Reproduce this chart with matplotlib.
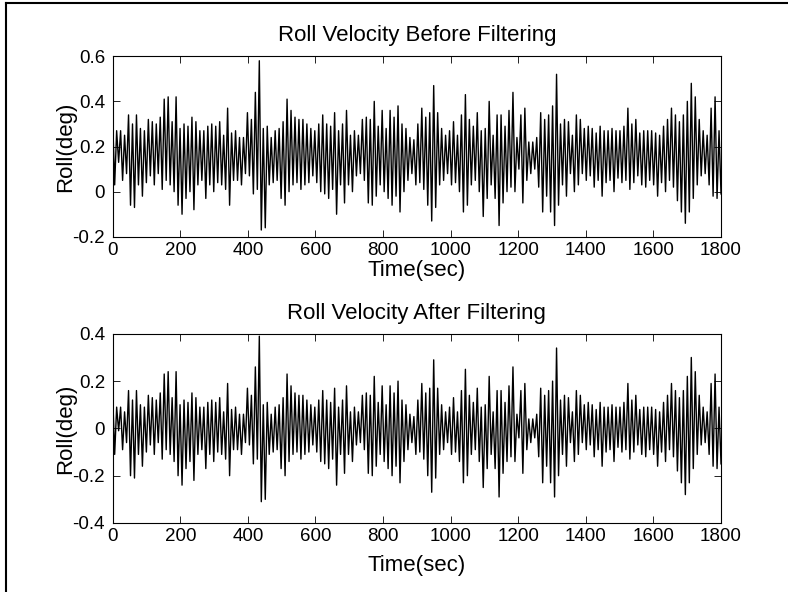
import numpy as np
import matplotlib
matplotlib.use("Agg")
import matplotlib.pyplot as plt
from matplotlib.lines import Line2D

# ---- data: successive peak / trough values of the roll velocity (deg) ----
before_peaks = [
    0.32, 0.27, 0.27, 0.25, 0.34, 0.30, 0.34, 0.28, 0.27, 0.32, 0.31, 0.30, 0.33, 0.41, 0.42, 0.31, 0.42, 0.28,
    0.30, 0.29, 0.33, 0.31, 0.27, 0.27, 0.29, 0.30, 0.29, 0.31, 0.25, 0.37, 0.26, 0.27, 0.24, 0.24, 0.35, 0.32,
    0.44, 0.58, 0.28, 0.29, 0.24, 0.27, 0.28, 0.31, 0.41, 0.36, 0.33, 0.32, 0.32, 0.30, 0.28, 0.27, 0.30,
    0.34, 0.30, 0.29, 0.35, 0.27, 0.30, 0.36, 0.25, 0.27, 0.25, 0.32, 0.33, 0.32, 0.40, 0.29, 0.36, 0.28, 0.36,
    0.33, 0.38, 0.30, 0.28, 0.24, 0.23, 0.30, 0.37, 0.33, 0.35, 0.47, 0.35, 0.28, 0.25, 0.27, 0.31, 0.25, 0.34,
    0.43, 0.32, 0.29, 0.35, 0.27, 0.28, 0.40, 0.25, 0.34, 0.34, 0.29, 0.36,
    0.44, 0.24, 0.34, 0.37, 0.22, 0.22, 0.24, 0.35, 0.32, 0.34, 0.38, 0.52, 0.30, 0.32, 0.31, 0.25, 0.34, 0.32,
    0.28, 0.29, 0.28, 0.26, 0.29, 0.27, 0.27, 0.28, 0.27, 0.27, 0.29, 0.37, 0.30, 0.32, 0.26, 0.27, 0.27, 0.27,
    0.26, 0.25, 0.29, 0.32, 0.37, 0.34, 0.31, 0.34, 0.40, 0.48, 0.42, 0.32, 0.27, 0.25, 0.37, 0.42, 0.27,
]
before_troughs = [
    0.03, 0.13, 0.05, 0.08, -0.06, -0.07, 0.03, -0.02, 0.04, 0.07, 0.03, 0.08, 0.01, 0.05, 0.03, 0.00, -0.06, -0.10,
    -0.03, 0.00, -0.08, 0.03, 0.05, -0.03, 0.03, 0.00, 0.04, 0.03, 0.01, -0.06, 0.05, 0.05, 0.03, 0.08, 0.07, -0.01,
    0.01, -0.17, -0.16, 0.03, 0.04, 0.05, -0.03, -0.06, 0.00, 0.03, 0.04, 0.01, 0.03, 0.04, 0.07, 0.04, 0.00,
    -0.01, -0.03, 0.01, -0.10, 0.03, -0.05, 0.03, 0.00, 0.07, 0.08, 0.05, -0.05, -0.06, -0.02, 0.03, 0.00, -0.03, -0.06,
    -0.02, -0.09, 0.00, 0.05, 0.08, 0.03, 0.04, 0.01, -0.06, -0.13, -0.07, 0.03, 0.05, 0.08, 0.03, 0.04, 0.00, -0.09,
    -0.06, 0.03, 0.05, 0.00, -0.11, -0.03, 0.03, -0.03, -0.15, -0.05, 0.00, 0.02,
    0.00, 0.10, -0.05, 0.05, 0.08, 0.10, 0.02, -0.09, -0.02, -0.09, -0.15, -0.06, 0.03, -0.02, 0.08, 0.00, 0.03, 0.08,
    0.05, 0.07, 0.02, 0.05, -0.02, 0.04, 0.05, 0.00, 0.06, 0.04, 0.05, 0.01, 0.04, 0.07, 0.03, 0.02, 0.05, 0.03,
    -0.02, 0.04, 0.00, 0.05, 0.02, -0.04, -0.09, -0.14, -0.09, -0.03, 0.03, 0.07, 0.08, 0.03, -0.02, -0.03, -0.01,
]
after_peaks = [
    0.14, 0.09, 0.09, 0.07, 0.16, 0.12, 0.16, 0.10, 0.09, 0.14, 0.13, 0.12, 0.15, 0.23, 0.24, 0.13, 0.24, 0.10,
    0.12, 0.11, 0.15, 0.13, 0.09, 0.09, 0.11, 0.12, 0.11, 0.13, 0.07, 0.19, 0.08, 0.09, 0.06, 0.06, 0.17, 0.14,
    0.26, 0.39, 0.10, 0.11, 0.06, 0.09, 0.10, 0.13, 0.23, 0.18, 0.15, 0.14, 0.14, 0.12, 0.10, 0.09, 0.12,
    0.16, 0.12, 0.11, 0.17, 0.09, 0.12, 0.18, 0.07, 0.09, 0.07, 0.14, 0.15, 0.14, 0.22, 0.11, 0.18, 0.10, 0.18,
    0.15, 0.20, 0.12, 0.10, 0.06, 0.05, 0.12, 0.19, 0.15, 0.17, 0.29, 0.17, 0.10, 0.07, 0.09, 0.13, 0.07, 0.16,
    0.25, 0.14, 0.11, 0.17, 0.09, 0.10, 0.22, 0.07, 0.16, 0.16, 0.11, 0.18,
    0.26, 0.06, 0.16, 0.19, 0.04, 0.04, 0.06, 0.17, 0.14, 0.16, 0.20, 0.34, 0.12, 0.14, 0.13, 0.07, 0.16, 0.14,
    0.10, 0.11, 0.10, 0.08, 0.11, 0.09, 0.09, 0.10, 0.09, 0.09, 0.11, 0.19, 0.12, 0.14, 0.08, 0.09, 0.09, 0.09,
    0.08, 0.07, 0.11, 0.14, 0.19, 0.16, 0.13, 0.16, 0.22, 0.30, 0.24, 0.14, 0.09, 0.07, 0.19, 0.23, 0.09,
]
after_troughs = [
    -0.11, -0.01, -0.09, -0.06, -0.20, -0.21, -0.11, -0.16, -0.10, -0.07, -0.11, -0.06, -0.13, -0.09, -0.11, -0.14,
    -0.20, -0.24, -0.17, -0.14, -0.22, -0.11, -0.09, -0.17, -0.11, -0.14, -0.10, -0.11, -0.13, -0.20, -0.09, -0.09,
    -0.11, -0.06, -0.07, -0.15, -0.13, -0.31, -0.30, -0.11, -0.10, -0.09, -0.17, -0.20, -0.14, -0.11, -0.10, -0.13,
    -0.11, -0.10, -0.07, -0.10, -0.14,
    -0.15, -0.17, -0.13, -0.24, -0.11, -0.19, -0.11, -0.14, -0.07, -0.06, -0.09, -0.19, -0.20, -0.16, -0.11, -0.14,
    -0.17, -0.20, -0.16, -0.23, -0.14, -0.09, -0.06, -0.11, -0.10, -0.13, -0.20, -0.27, -0.21, -0.11, -0.09, -0.06,
    -0.11, -0.10, -0.14, -0.23, -0.20, -0.11, -0.09, -0.14, -0.25, -0.17, -0.11, -0.17, -0.29, -0.19, -0.14, -0.12,
    -0.14, -0.04, -0.19, -0.09, -0.06, -0.04, -0.12, -0.23, -0.16, -0.23, -0.29, -0.20, -0.11, -0.16, -0.06, -0.14,
    -0.11, -0.06, -0.09, -0.07, -0.12, -0.09, -0.16, -0.10, -0.09, -0.14, -0.08, -0.10, -0.09, -0.13, -0.10, -0.07,
    -0.11, -0.12, -0.09, -0.11, -0.16, -0.10, -0.14, -0.09, -0.12, -0.18, -0.23, -0.28, -0.23, -0.17, -0.11, -0.07,
    -0.06, -0.11, -0.16, -0.17, -0.15,
]

t_end = 1800
x_ticks = [0, 200, 400, 600, 800, 1000, 1200, 1400, 1600, 1800]
y_ticks_top = [-0.2, 0, 0.2, 0.4, 0.6]
y_ticks_bot = [-0.4, -0.2, 0, 0.2, 0.4]
titles = ["Roll Velocity Before Filtering", "Roll Velocity After Filtering"]
xlabel = "Time(sec)"
ylabel = "Roll(deg)"


def series(peaks, troughs):
    n = min(len(peaks), len(troughs))
    y = np.column_stack([peaks[:n], troughs[:n]]).ravel()
    t = np.linspace(0, t_end, len(y))
    return t, y


plt.rcParams['font.family'] = ['Liberation Sans', 'DejaVu Sans']
FS_TICK = 13.5
FS_TEXT = 16

fig = plt.figure(figsize=(7.88, 5.92), dpi=100)
ax1 = fig.add_axes([0.143, 0.600, 0.772, 0.305])
ax2 = fig.add_axes([0.143, 0.1166, 0.772, 0.3195])

for ax, (pk, tr), yt, title, xpad in [
    (ax1, (before_peaks, before_troughs), y_ticks_top, titles[0], 1.0),
    (ax2, (after_peaks, after_troughs), y_ticks_bot, titles[1], 7.5),
]:
    t, y = series(pk, tr)
    ax.plot(t, y, color='black', lw=1.0)
    ax.set_xlim(0, t_end)
    ax.set_ylim(yt[0], yt[-1])
    ax.set_xticks(x_ticks)
    ax.set_yticks(yt)
    ax.set_yticklabels(['%g' % v for v in yt])
    ax.tick_params(direction='in', length=5, width=0.6, top=True, right=True,
                   labelsize=FS_TICK)
    ax.tick_params(axis='y', pad=5.5)
    ax.tick_params(axis='x', pad=3.5)
    ax.set_title(title, fontsize=FS_TEXT, pad=11)
    ax.set_xlabel(xlabel, fontsize=FS_TEXT, labelpad=xpad)
    ax.set_ylabel(ylabel, fontsize=FS_TEXT, labelpad=-3)
    for s in ax.spines.values():
        s.set_linewidth(0.8)

# figure frame (left and top edges)
fx = 6 / 788
fy = 1 - 3 / 592
fig.add_artist(Line2D([fx, fx], [0, fy], color='black', lw=1.5, transform=fig.transFigure))
fig.add_artist(Line2D([fx, 1], [fy, fy], color='black', lw=1.5, transform=fig.transFigure))

fig.savefig("out.png", dpi=100)
